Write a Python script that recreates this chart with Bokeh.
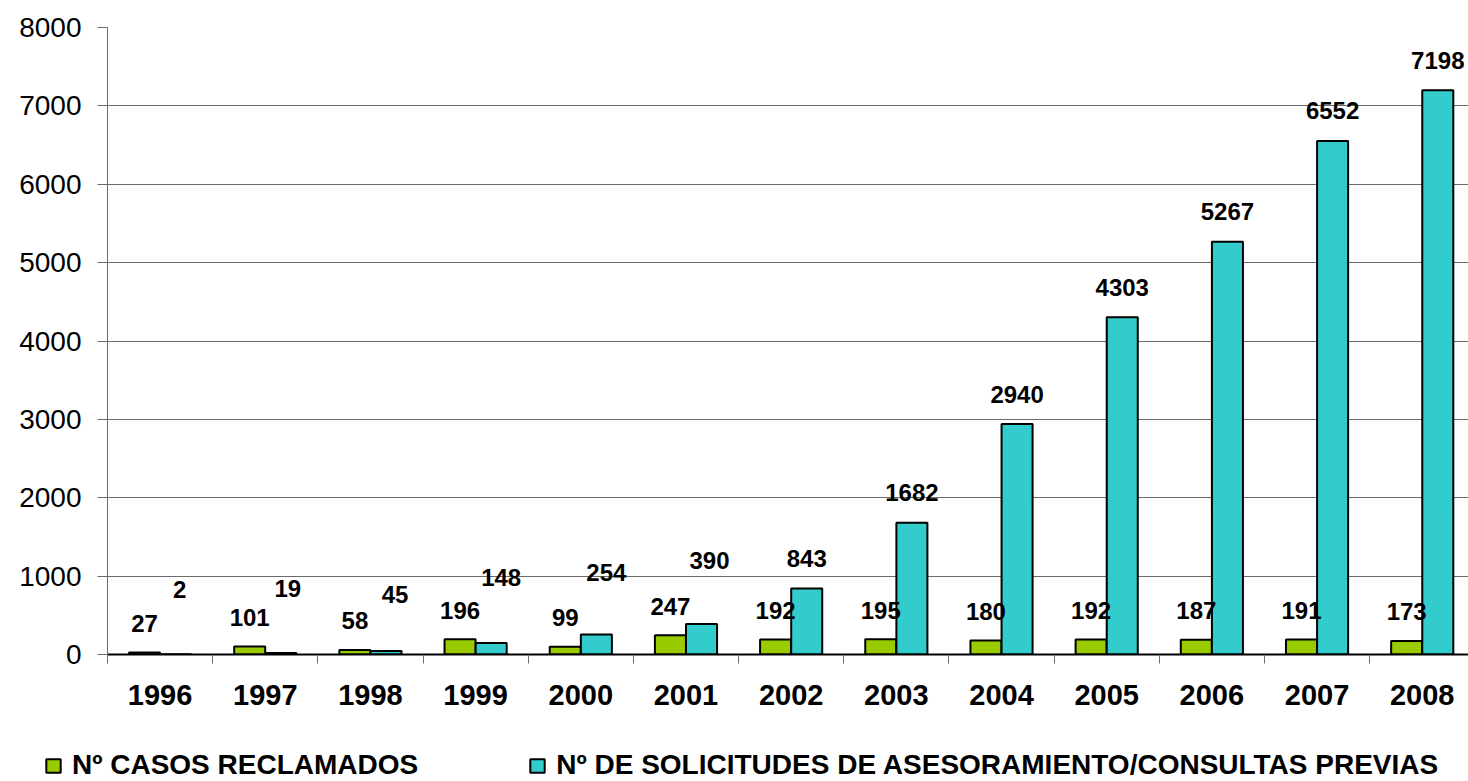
from bokeh.plotting import figure
from bokeh.layouts import column
from bokeh.models import (ColumnDataSource, Range1d, FixedTicker, Legend, LegendItem,
                          SingleIntervalTicker)
from bokeh.core.properties import value
from bokeh.embed import file_html
from bokeh.resources import INLINE

# Data
years = ["1996", "1997", "1998", "1999", "2000", "2001", "2002",
         "2003", "2004", "2005", "2006", "2007", "2008"]
casos_reclamados = [27, 101, 58, 196, 99, 247, 192, 195, 180, 192, 187, 191, 173]
solicitudes = [2, 19, 45, 148, 254, 390, 843, 1682, 2940, 4303, 5267, 6552, 7198]

serie_1 = "Nº CASOS RECLAMADOS"
serie_2 = "Nº DE SOLICITUDES DE ASESORAMIENTO/CONSULTAS PREVIAS"

# Label lifts (pixels above the bar top); the small consultation values are raised
# further and nudged right to keep them clear of the neighbouring labels
lift_1 = 29
lift_2 = [65, 65, 56, 65, 62, 63, 30, 30, 30, 30, 30, 30, 30]
shift_2 = [4, 7, 9, 10, 10, 8, 0, 0, 0, 0, 0, 0, 0]

GREEN = "#99CC00"
CYAN = "#33CCCC"
FONT = "Liberation Sans"

idx = list(range(len(years)))
dodge = 0.148
bar_w = 0.295

src1 = ColumnDataSource(dict(x=[i - dodge for i in idx], top=casos_reclamados,
                             lbl=[str(v) for v in casos_reclamados],
                             dy=[-lift_1] * len(idx)))
src2 = ColumnDataSource(dict(x=[i + dodge for i in idx], top=solicitudes,
                             lbl=[str(v) for v in solicitudes],
                             dy=[-v for v in lift_2], dx=shift_2))

p = figure(width=1468, height=740, output_backend="svg", toolbar_location=None,
           x_range=Range1d(-0.5, 12.44), y_range=Range1d(0, 8000),
           min_border_left=107, min_border_right=0, min_border_top=27,
           min_border_bottom=86)
p.frame_align = False
p.outline_line_color = None
p.background_fill_color = "white"
p.border_fill_color = "white"

# Grid
p.xgrid.grid_line_color = None
p.ygrid.grid_line_color = "#6b6b6b"
p.ygrid.grid_line_width = 1
p.yaxis.ticker = SingleIntervalTicker(interval=1000)

# Y axis
p.yaxis.axis_line_color = "#6b6b6b"
p.yaxis.major_tick_line_color = "#6b6b6b"
p.yaxis.major_tick_out = 10
p.yaxis.major_tick_in = 0
p.yaxis.minor_tick_line_color = None
p.yaxis.major_label_standoff = 16
p.yaxis.major_label_text_font = FONT
p.yaxis.major_label_text_font_size = "28px"
p.yaxis.major_label_text_color = "black"

# X axis: labels at category centres, tick marks at category boundaries
p.xaxis.ticker = FixedTicker(ticks=idx, minor_ticks=[i - 0.5 for i in range(len(years) + 1)])
p.xaxis.major_label_overrides = {i: y for i, y in enumerate(years)}
p.xaxis.major_tick_out = 0
p.xaxis.major_tick_in = 0
p.xaxis.minor_tick_out = 9
p.xaxis.minor_tick_in = 0
p.xaxis.minor_tick_line_color = "#6b6b6b"
p.xaxis.axis_line_color = "black"
p.xaxis.axis_line_width = 2
p.xaxis.major_label_standoff = 21
p.xaxis.major_label_text_font = FONT
p.xaxis.major_label_text_font_size = "29px"
p.xaxis.major_label_text_font_style = "bold"
p.xaxis.major_label_text_color = "black"

# Bars
bar_style = dict(width=bar_w, line_color="black", line_width=2)
r1 = p.vbar(x="x", top="top", source=src1, fill_color=GREEN, **bar_style)
r2 = p.vbar(x="x", top="top", source=src2, fill_color=CYAN, **bar_style)

# Value labels
label_style = dict(text_align="center", text_baseline="alphabetic",
                   text_font=value(FONT), text_font_style="bold",
                   text_font_size="24px", text_color="black")
p.text(x="x", y="top", text="lbl", source=src1, y_offset="dy", **label_style)
p.text(x="x", y="top", text="lbl", source=src2, y_offset="dy", x_offset="dx",
       **label_style)

# Legend strip along the bottom (swatch renderers sit outside the visible range)
q = figure(width=1468, height=41, output_backend="svg", toolbar_location=None,
           x_axis_location=None, y_axis_location=None,
           x_range=Range1d(0, 1), y_range=Range1d(0, 1),
           min_border=0)
q.frame_align = False
q.outline_line_color = None
q.grid.grid_line_color = None
swatch = dict(x=[5], top=[0])
k1 = q.vbar(x="x", top="top", source=ColumnDataSource(swatch), fill_color=GREEN, **bar_style)
k2 = q.vbar(x="x", top="top", source=ColumnDataSource(swatch), fill_color=CYAN, **bar_style)

legend = Legend(items=[LegendItem(label=serie_1, renderers=[k1]),
                       LegendItem(label=serie_2, renderers=[k2])],
                orientation="horizontal", location=(44, 0),
                padding=0, margin=0, spacing=110,
                glyph_width=18, glyph_height=17, label_standoff=10,
                label_text_font=FONT, label_text_font_size="28px",
                label_text_font_style="bold", label_text_color="black",
                border_line_color=None, background_fill_alpha=0)
q.add_layout(legend, "center")

open("out.html", "w").write(file_html(column(p, q, spacing=0), INLINE))
